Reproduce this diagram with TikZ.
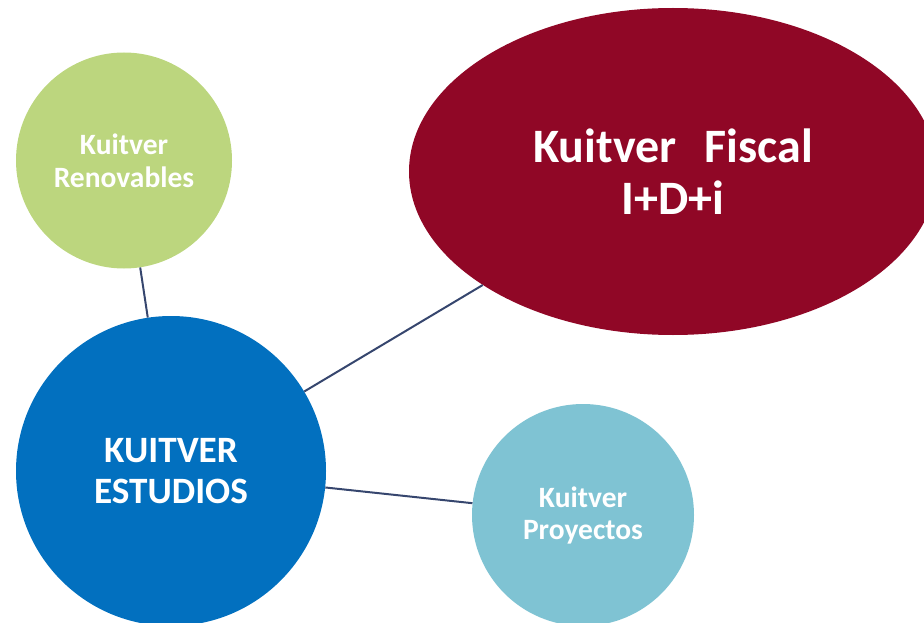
\documentclass[tikz,border=0pt]{standalone}
\usepackage{fontspec}
\setmainfont{Carlito}
\usetikzlibrary{shapes.geometric}
\definecolor{cgreen}{HTML}{BCD67E}
\definecolor{cred}{HTML}{900726}
\definecolor{cblue}{HTML}{0270BF}
\definecolor{clblue}{HTML}{7FC3D3}
\definecolor{cline}{HTML}{36466E}
\tikzset{
  bubble/.style={circle, inner sep=0pt, text=white, align=center, draw=none},
  link/.style={draw=cline, line width=2pt}
}
\begin{document}
\begin{tikzpicture}[x=1pt,y=-1pt]
\useasboundingbox (0,0) rectangle (924,623);
\node[bubble, fill=cgreen, minimum size=216pt, font=\fontsize{29.5}{33}\selectfont\bfseries] (ren) at (124,160.5) {Kuitver\\Renovables};
\node[ellipse, inner sep=0pt, fill=cred, text=white, align=center, minimum width=528pt, minimum height=327pt, font=\fontsize{48}{52}\selectfont\bfseries] (fis) at (673,171.5) {Kuitver\hspace{28pt}Fiscal\\I+D+i};
\node[bubble, fill=cblue, minimum size=310pt, font=\fontsize{37.2}{41}\selectfont\bfseries] (est) at (171,471) {KUITVER\\ESTUDIOS};
\node[bubble, fill=clblue, minimum size=222pt, font=\fontsize{29.5}{32}\selectfont\bfseries] (pro) at (583,515) {Kuitver\\Proyectos};
\draw[link] (ren) -- (est);
\draw[link] (est) -- (fis);
\draw[link] (est) -- (pro);
\end{tikzpicture}
\end{document}
